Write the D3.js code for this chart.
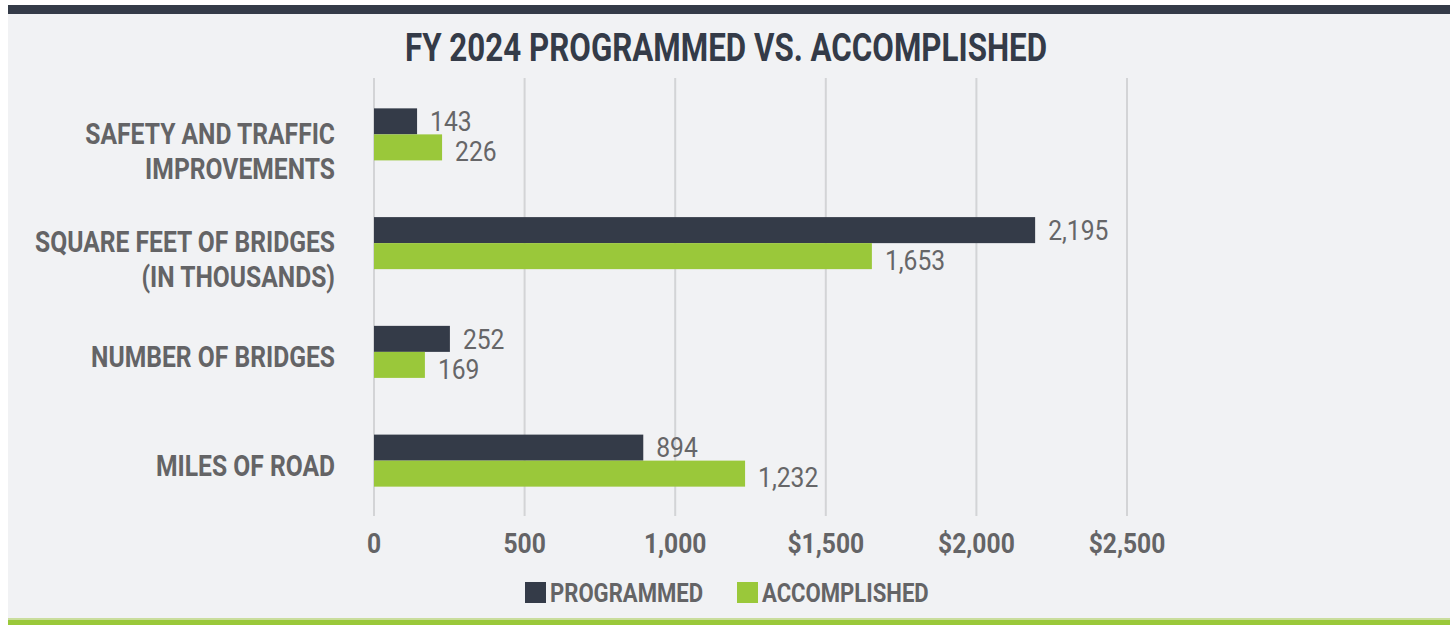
<!DOCTYPE html>
<html>
<head>
<meta charset="utf-8">
<script src="https://cdn.jsdelivr.net/npm/d3@7"></script>
<style>
  body { margin: 0; background: #ffffff; }
  svg { display: block; font-family: Roboto, "Liberation Sans", sans-serif; }
</style>
</head>
<body>
<div id="chart"></div>
<script>
// data
const categories = [
  ["SAFETY AND TRAFFIC", "IMPROVEMENTS"],
  ["SQUARE FEET OF BRIDGES", "(IN THOUSANDS)"],
  ["NUMBER OF BRIDGES"],
  ["MILES OF ROAD"]
];
const series = ["PROGRAMMED", "ACCOMPLISHED"];
const programmed = [143, 2195, 252, 894];
const accomplished = [226, 1653, 169, 1232];
const tickValues = [0, 500, 1000, 1500, 2000, 2500];
const tickLabels = ["0", "500", "1,000", "$1,500", "$2,000", "$2,500"];
const title = "FY 2024 PROGRAMMED VS. ACCOMPLISHED";

const W = 1450, H = 625;
const colors = { PROGRAMMED: "#343b48", ACCOMPLISHED: "#9ac83a" };
const textGray = "#646466";

const svg = d3.select("#chart").append("svg")
  .attr("width", W).attr("height", H);

// panel background + frame bars
svg.append("rect").attr("x", 8).attr("y", 0).attr("width", W - 8).attr("height", H).attr("fill", "#f1f2f4");
svg.append("rect").attr("x", 8).attr("y", 0).attr("width", W - 8).attr("height", 5).attr("fill", "#ffffff");
svg.append("rect").attr("x", 8).attr("y", 5).attr("width", W - 8).attr("height", 9).attr("fill", "#343b48");
svg.append("rect").attr("x", 8).attr("y", 618).attr("width", W - 8).attr("height", 2).attr("fill", "#c9dd9c");
svg.append("rect").attr("x", 8).attr("y", 620).attr("width", W - 8).attr("height", 5).attr("fill", "#9ac83a");

// condensed text helper (no condensed web font available)
function condText(g, x, y, str, opts) {
  return g.append("text")
    .attr("transform", `translate(${x},${y}) scale(${opts.sx},1)`)
    .attr("text-anchor", opts.anchor || "start")
    .attr("dy", opts.dy || "0.35em")
    .style("font-size", opts.size + "px")
    .style("font-weight", opts.weight || 700)
    .attr("fill", opts.fill || textGray)
    .text(str);
}

// title
svg.append("text")
  .attr("x", 405).attr("y", 61)
  .attr("textLength", 642).attr("lengthAdjust", "spacingAndGlyphs")
  .style("font-size", "39px").style("font-weight", 700)
  .attr("fill", "#343b48")
  .text(title);

const x = d3.scaleLinear().domain([0, 2500]).range([374, 1127]);
const y0 = d3.scaleBand().domain(d3.range(categories.length)).range([80, 515]).padding(0);
const y1 = d3.scaleBand().domain(series).range([0, y0.bandwidth()]).paddingInner(0).paddingOuter(1.09);

// gridlines
svg.append("g").selectAll("line").data(tickValues).join("line")
  .attr("x1", d => x(d)).attr("x2", d => x(d))
  .attr("y1", 78).attr("y2", 516)
  .attr("stroke", "#d3d4d6").attr("stroke-width", 2);

// tick labels
tickValues.forEach((v, i) => {
  condText(svg, x(v), 543, tickLabels[i], { sx: 0.88, size: 28, anchor: "middle" });
});

// category labels
categories.forEach((lines, i) => {
  const cy = y0(i) + y0.bandwidth() / 2;
  lines.forEach((ln, j) => {
    const yy = cy + 5 + j * 35 - (lines.length - 1) * 6;
    condText(svg, 335, yy, ln, { sx: 0.85, size: 29, anchor: "end" });
  });
});

// bars
const rows = categories.map((c, i) => ({ i, values: [
  { key: "PROGRAMMED", value: programmed[i] },
  { key: "ACCOMPLISHED", value: accomplished[i] }
]}));

const grp = svg.append("g").selectAll("g").data(rows).join("g")
  .attr("transform", d => `translate(0,${y0(d.i)})`);

grp.selectAll("rect").data(d => d.values).join("rect")
  .attr("x", x(0))
  .attr("y", d => y1(d.key))
  .attr("height", y1.bandwidth())
  .attr("width", d => x(d.value) - x(0))
  .attr("fill", d => colors[d.key]);

grp.each(function(d) {
  const g = d3.select(this);
  d.values.forEach(v => {
    const off = v.key === "ACCOMPLISHED" ? 4 : 0;
    condText(g, x(v.value) + 13, y1(v.key) + y1.bandwidth() / 2 + off, d3.format(",")(v.value),
      { sx: 0.88, size: 28, weight: 400, fill: "#666668" });
  });
});

// legend
const legend = svg.append("g");
const legendX = [525, 737];
series.forEach((s, i) => {
  legend.append("rect").attr("x", legendX[i]).attr("y", 582).attr("width", 21).attr("height", 21).attr("fill", colors[s]);
  condText(legend, legendX[i] + 25, 593, s, { sx: 0.85, size: 26 });
});
</script>
</body>
</html>
